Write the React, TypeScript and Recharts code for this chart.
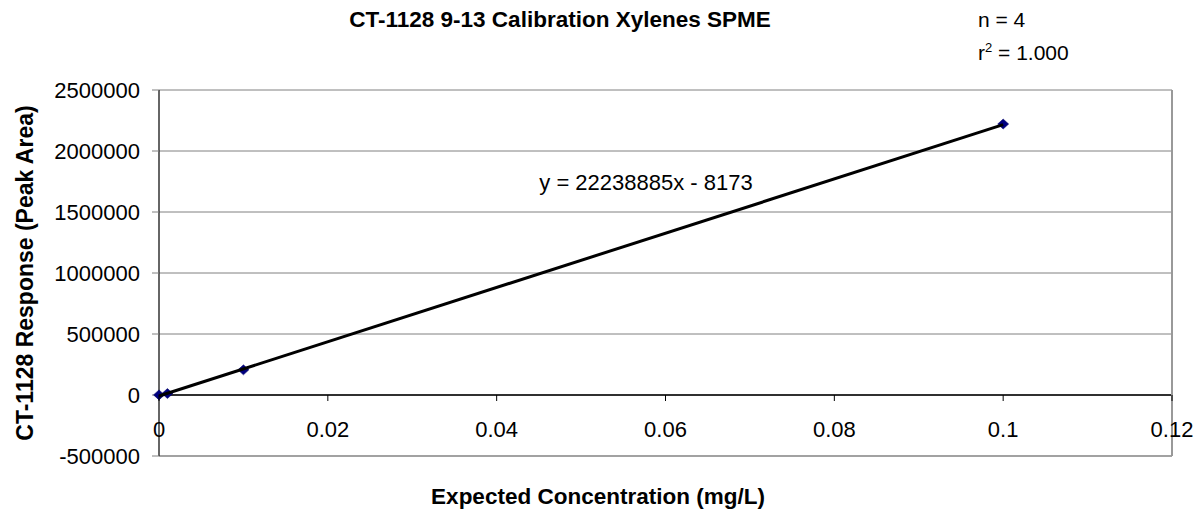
import React from "react";
import { ScatterChart, Scatter, XAxis, YAxis, CartesianGrid, ReferenceLine } from "recharts";

// calibration points
const concentrations = [0, 0.001, 0.01, 0.1];
const responses = [1000, 12000, 206000, 2221000];

// trendline ends (y = 22238885x - 8173)
const trendX = [0, 0.1];
const trendY = [-8173, 2215716];

const xTicks = [0, 0.02, 0.04, 0.06, 0.08, 0.1, 0.12];
const yTicks = [-500000, 0, 500000, 1000000, 1500000, 2000000, 2500000];

const points = concentrations.map((x, i) => ({ x, y: responses[i] }));
const trend = trendX.map((x, i) => ({ x, y: trendY[i] }));

const W = 1201;
const H = 514;
const TOP = 90;
const XH = 58;
const PLOT_H = H - TOP - XH;
const Y_MIN = yTicks[0];
const Y_MAX = yTicks[yTicks.length - 1];
const ZERO_UP = ((0 - Y_MIN) / (Y_MAX - Y_MIN)) * PLOT_H;

const FONT = '"Liberation Sans", Arial, sans-serif';

const XTick = (props: any) => {
  const { x, y, payload } = props;
  const zy = y - ZERO_UP;
  return (
    <g>
      <line x1={x} x2={x} y1={zy} y2={zy + 6} stroke="#000" strokeWidth={1} />
      <text x={x} y={zy + 42} textAnchor="middle" fontSize={22} fontFamily={FONT} fill="#000">
        {String(payload.value)}
      </text>
    </g>
  );
};

const Diamond = (props: any) => {
  const { cx, cy } = props;
  return (
    <path
      d={`M${cx},${cy - 5}L${cx + 5.5},${cy}L${cx},${cy + 5}L${cx - 5.5},${cy}Z`}
      fill="#000080"
      stroke="#000060"
      strokeWidth={0.5}
    />
  );
};

export default function App() {
  return (
    <div style={{ position: "absolute", left: 0, top: 0, width: W, height: H, background: "#fff", fontFamily: FONT, color: "#000" }}>
      <ScatterChart width={W} height={H} margin={{ top: TOP, right: 29, left: 0, bottom: 0 }}>
        <CartesianGrid vertical={false} stroke="#808080" strokeWidth={1} />
        <XAxis
          type="number"
          dataKey="x"
          domain={[0, 0.12]}
          ticks={xTicks}
          height={XH}
          tickSize={0}
          tickMargin={0}
          tickLine={false}
          axisLine={{ stroke: "#999", strokeWidth: 1.5 }}
          tick={<XTick />}
          interval={0}
        />
        <YAxis
          type="number"
          dataKey="y"
          domain={[Y_MIN, Y_MAX]}
          ticks={yTicks}
          width={159}
          tickSize={7}
          tickMargin={12}
          tickLine={{ stroke: "#808080" }}
          axisLine={{ stroke: "#333", strokeWidth: 1.5 }}
          tick={{ fontSize: 22, fontFamily: FONT, fill: "#000" }}
          interval={0}
        />
        <ReferenceLine y={0} stroke="#000" strokeWidth={1.5} />
        <ReferenceLine x={0.12} stroke="#999" strokeWidth={2} />
        <Scatter data={points} shape={<Diamond />} isAnimationActive={false} />
        <Scatter
          data={trend}
          line={{ stroke: "#000", strokeWidth: 3 }}
          lineType="joint"
          shape={() => <g />}
          isAnimationActive={false}
        />
      </ScatterChart>

      <div style={{ position: "absolute", left: 560, top: 20, transform: "translate(-50%,-50%)", fontWeight: "bold", fontSize: 22.5, whiteSpace: "nowrap" }}>
        CT-1128 9-13 Calibration Xylenes SPME
      </div>
      <div style={{ position: "absolute", left: 978, top: 20, transform: "translateY(-50%)", fontSize: 21, whiteSpace: "nowrap" }}>
        n = 4
      </div>
      <div style={{ position: "absolute", left: 978, top: 52, transform: "translateY(-50%)", fontSize: 21, whiteSpace: "nowrap" }}>
        r<sup style={{ fontSize: 13 }}>2</sup> = 1.000
      </div>
      <div style={{ position: "absolute", left: 646, top: 183, transform: "translate(-50%,-50%)", fontSize: 22, whiteSpace: "nowrap" }}>
        y = 22238885x - 8173
      </div>
      <div style={{ position: "absolute", left: 598, top: 497, transform: "translate(-50%,-50%)", fontWeight: "bold", fontSize: 22.5, whiteSpace: "nowrap" }}>
        Expected Concentration (mg/L)
      </div>
      <div style={{ position: "absolute", left: 25, top: 273, transform: "translate(-50%,-50%) rotate(-90deg)", fontWeight: "bold", fontSize: 23, whiteSpace: "nowrap" }}>
        CT-1128 Response (Peak Area)
      </div>
    </div>
  );
}
